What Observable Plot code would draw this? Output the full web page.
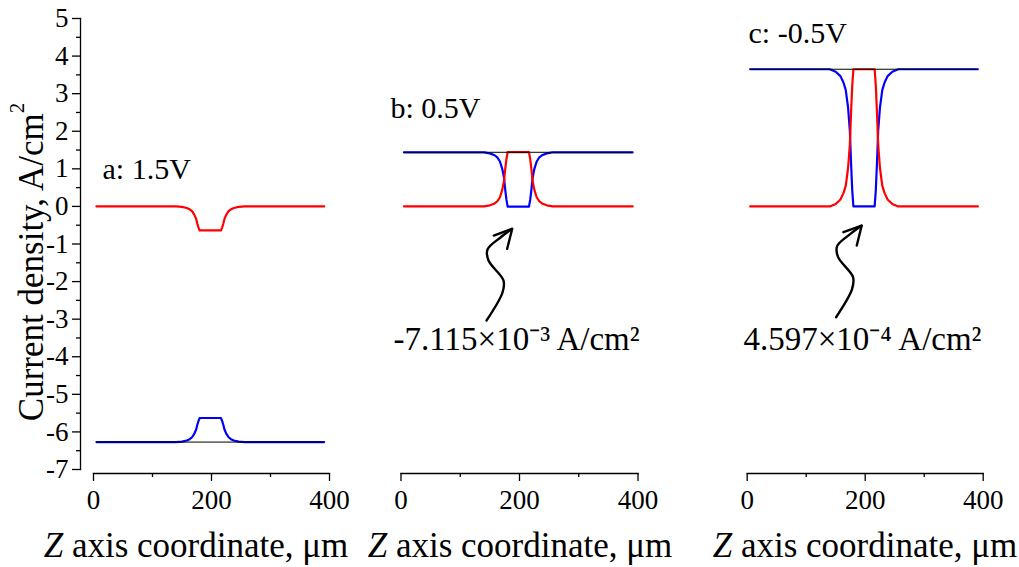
<!DOCTYPE html>
<html>
<head>
<meta charset="utf-8">
<script src="https://cdn.jsdelivr.net/npm/d3@7"></script>
<script src="https://cdn.jsdelivr.net/npm/@observablehq/plot@0.6"></script>
<style>
  body { margin: 0; background: #fff; }
  #chart { position: relative; width: 1019px; height: 567px; overflow: hidden;
           font-family: "Liberation Serif", "Times New Roman", serif; color: #000; }
  #chart svg { position: absolute; top: 0; }
  #chart svg text { font-family: "Liberation Serif", "Times New Roman", serif !important; }
  .xt { position: absolute; top: 528px; font-size: 35px; line-height: 1; white-space: nowrap;
        transform: translateX(-50%); }
  .yt { position: absolute; left: 31px; top: 262px; font-size: 35px; line-height: 1; white-space: nowrap;
        transform: translate(-50%, -50%) rotate(-90deg); }
  .yt sup { font-size: 60%; vertical-align: 0.9em; line-height: 0; }
</style>
</head>
<body>
<div id="chart"></div>
<script>
// ---- data ----
const zAxis = [5, 50, 100, 140, 150, 158, 163, 167, 171, 174, 176, 178, 180,
               216, 218, 220, 222, 225, 229, 233, 238, 246, 256, 300, 350, 391];

// panel a: 1.5 V
const redA  = [0, 0, 0, 0, -0.013, -0.042, -0.077, -0.128, -0.224, -0.333, -0.461, -0.563, -0.64,
               -0.64, -0.563, -0.461, -0.333, -0.224, -0.128, -0.077, -0.042, -0.013, 0, 0, 0, 0];
const blueA = [-6.27, -6.27, -6.27, -6.27, -6.257, -6.228, -6.193, -6.142, -6.046, -5.937, -5.809, -5.707, -5.63,
               -5.63, -5.707, -5.809, -5.937, -6.046, -6.142, -6.193, -6.228, -6.257, -6.27, -6.27, -6.27, -6.27];
const totalA = -6.27;

// panel b: 0.5 V
const redB  = [0, 0, 0, 0, 0.029, 0.079, 0.144, 0.245, 0.446, 0.691, 1.008, 1.267, 1.447,
               1.447, 1.267, 1.008, 0.691, 0.446, 0.245, 0.144, 0.079, 0.029, 0, 0, 0, 0];
const blueB = [1.44, 1.44, 1.44, 1.44, 1.411, 1.361, 1.296, 1.195, 0.994, 0.749, 0.432, 0.173, -0.007,
               -0.007, 0.173, 0.432, 0.749, 0.994, 1.195, 1.296, 1.361, 1.411, 1.44, 1.44, 1.44, 1.44];
const totalB = 1.44;

// panel c: -0.5 V
const redC  = [0, 0, 0, 0, 0.066, 0.183, 0.347, 0.548, 1.022, 1.643, 2.482, 3.212, 3.65,
               3.65, 3.212, 2.482, 1.643, 1.022, 0.548, 0.347, 0.183, 0.066, 0, 0, 0, 0];
const blueC = [3.65, 3.65, 3.65, 3.65, 3.584, 3.467, 3.303, 3.102, 2.628, 2.007, 1.168, 0.438, 0.0005,
               0.0005, 0.438, 1.168, 2.007, 2.628, 3.102, 3.303, 3.467, 3.584, 3.65, 3.65, 3.65, 3.65];
const totalC = 3.65;

// axes
const xDomain = [0, 400];
const yDomain = [-7, 5];
const xTicks = [0, 200, 400];
const xMinorTicks = [100, 300];
const yTicks = [-7, -6, -5, -4, -3, -2, -1, 0, 1, 2, 3, 4, 5];
const yMinorTicks = [-6.5, -5.5, -4.5, -3.5, -2.5, -1.5, -0.5, 0.5, 1.5, 2.5, 3.5, 4.5];

// texts
const panelLabels = ["a: 1.5V", "b: 0.5V", "c: -0.5V"];
const noteTexts = ["-7.115×10⁻³ A/cm²", "4.597×10⁻⁴ A/cm²"];
const xTitle = "axis coordinate, μm";
const yTitle = "Current density, A/cm";

// annotation arrows (data units: µm, A/cm²)
const arrowBz = [144.3, 171.3, 173.0, 147.7, 146.0, 167.9, 187.7];
const arrowBj = [-3.035, -2.290, -1.971, -1.439, -1.146, -0.827, -0.595];
const headBz  = [156.6, 187.7, 179.2];
const headBj  = [-0.774, -0.595, -1.128];
const arrowCz = [150.7, 177.7, 179.4, 154.1, 152.4, 174.4, 194.1];
const arrowCj = [-2.948, -2.203, -1.883, -1.351, -1.058, -0.739, -0.508];
const headCz  = [163.0, 194.1, 185.7];
const headCj  = [-0.686, -0.508, -1.04];

// ---- drawing ----
const FONT = "'Liberation Serif', 'Times New Roman', serif";
const chart = document.getElementById("chart");

function panel(o) {
  const data = zAxis.map((z, i) => ({z, red: o.red[i], blue: o.blue[i]}));
  const marks = [];
  if (o.showY) {
    marks.push(
      Plot.frame({anchor: "left", insetBottom: 4, strokeWidth: 1.3}),
      Plot.axisY({ticks: yTicks, tickSize: 8, tickPadding: 4, fontSize: 27, fontFamily: FONT,
                  strokeWidth: 1.3, label: null, tickFormat: d => String(d)}),
      Plot.axisY({ticks: yMinorTicks, tickSize: 4, text: null, label: null, strokeWidth: 1.3})
    );
  }
  marks.push(
    Plot.frame({anchor: "bottom", insetLeft: o.insetLeft || 0, strokeWidth: 1.3}),
    Plot.axisX({ticks: xTicks, tickSize: 8, tickPadding: 8, fontSize: 27, fontFamily: FONT,
                strokeWidth: 1.3, label: null, tickFormat: d => String(d)}),
    Plot.axisX({ticks: xMinorTicks, tickSize: 4, text: null, label: null, strokeWidth: 1.3}),
    Plot.line(data, {x: "z", y: "blue", stroke: "#0000ff", strokeWidth: 2.2}),
    Plot.line(data, {x: "z", y: "red", stroke: "#ff0000", strokeWidth: 2.2}),
    Plot.ruleY([o.total], {x1: zAxis[0], x2: zAxis[zAxis.length - 1], stroke: "#000", strokeWidth: 1}),
    Plot.text([o.label], {frameAnchor: "top-left", dx: o.labelDx, dy: o.labelDy, fontFamily: FONT,
                          textAnchor: "start", lineAnchor: "bottom", fontSize: 30})
  );
  if (o.note) {
    const arrow = o.arrowZ.map((z, i) => ({z, j: o.arrowJ[i]}));
    const head = o.headZ.map((z, i) => ({z, j: o.headJ[i]}));
    marks.push(
      Plot.line(arrow, {x: "z", y: "j", curve: "catmull-rom", stroke: "#000", strokeWidth: 2.4}),
      Plot.line(head, {x: "z", y: "j", stroke: "#000", strokeWidth: 2.4, strokeLinejoin: "miter"}),
      Plot.text([o.note], {frameAnchor: "top-left", dx: o.noteDx, dy: o.noteDy, fontFamily: FONT,
                           textAnchor: "start", lineAnchor: "bottom", fontSize: 33})
    );
  }
  const svg = Plot.plot({
    width: o.width, height: 567,
    marginLeft: o.marginLeft, marginRight: o.marginRight, marginTop: 18, marginBottom: 94,
    x: {domain: xDomain, insetLeft: o.insetLeft || 0, axis: null, label: null},
    y: {domain: yDomain, insetBottom: 4, axis: null, label: null},
    style: {fontFamily: FONT, fontSize: "26px", color: "#000", background: "transparent", overflow: "visible"},
    marks
  });
  svg.style.left = o.left + "px";
  chart.appendChild(svg);
}

panel({left: 0, width: 360, marginLeft: 80, marginRight: 31, insetLeft: 13, showY: true,
       red: redA, blue: blueA, total: totalA, label: panelLabels[0], labelDx: 22, labelDy: 160});
panel({left: 360, width: 340, marginLeft: 40.5, marginRight: 62.5,
       red: redB, blue: blueB, total: totalB, label: panelLabels[1], labelDx: -10.5, labelDy: 99,
       note: noteTexts[0], noteDx: -7.5, noteDy: 331,
       arrowZ: arrowBz, arrowJ: arrowBj, headZ: headBz, headJ: headBj});
panel({left: 700, width: 319, marginLeft: 46.7, marginRight: 36.3,
       red: redC, blue: blueC, total: totalC, label: panelLabels[2], labelDx: 1.3, labelDy: 24,
       note: noteTexts[1], noteDx: -3.7, noteDy: 331,
       arrowZ: arrowCz, arrowJ: arrowCj, headZ: headCz, headJ: headCj});

// axis titles (HTML, for italic Z and superscript)
[196, 520, 865].forEach(cx => {
  const d = document.createElement("div");
  d.className = "xt";
  d.style.left = cx + "px";
  const i = document.createElement("i");
  i.textContent = "Z";
  d.appendChild(i);
  d.appendChild(document.createTextNode(" " + xTitle));
  chart.appendChild(d);
});
const yt = document.createElement("div");
yt.className = "yt";
yt.appendChild(document.createTextNode(yTitle));
const sup = document.createElement("sup");
sup.textContent = "2";
yt.appendChild(sup);
chart.appendChild(yt);
</script>
</body>
</html>
